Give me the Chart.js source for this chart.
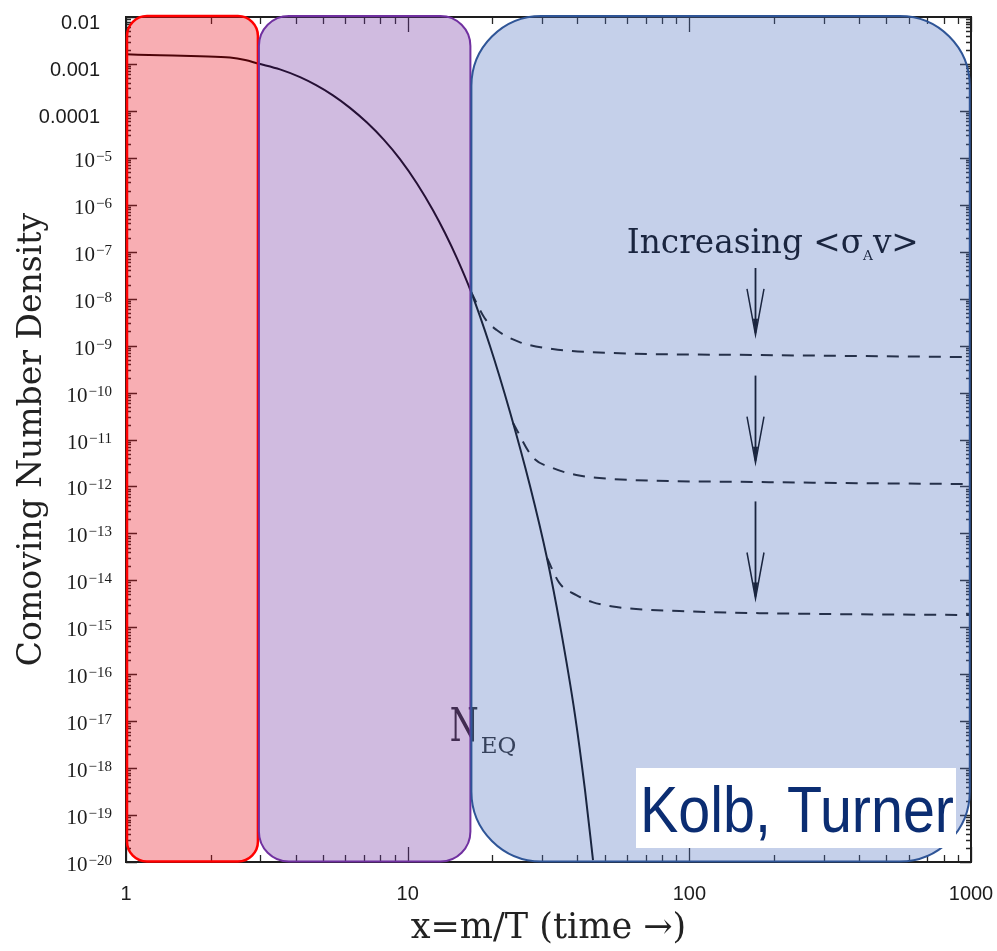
<!DOCTYPE html>
<html>
<head>
<meta charset="utf-8">
<script src="https://cdn.jsdelivr.net/npm/chart.js@4.4.1/dist/chart.umd.min.js"></script>
<style>
  html, body { margin: 0; padding: 0; background: #fff; }
  canvas { display: block; }
</style>
</head>
<body>
<canvas id="chart" width="997" height="951"></canvas>
<script>
// ---- data -------------------------------------------------------------
// equilibrium comoving number density (solid)
const eqX = [1, 1.32, 1.83, 2.34, 2.65, 2.94, 3.52, 4.15, 4.73, 5.43, 6.24, 7.17, 8.24, 9.39, 10.79, 12.30, 13.57, 14.97, 16.78, 19.60, 23.08, 27.19, 31.23, 34.74, 39.27, 42.62, 45.50];
const eqY = [1.60e-3, 1.535e-3, 1.46e-3, 1.37e-3, 1.21e-3, 1.02e-3, 7.65e-4, 5.22e-4, 3.52e-4, 2.14e-4, 1.16e-4, 5.63e-5, 2.41e-5, 9.39e-6, 2.85e-6, 7.66e-7, 2.50e-7, 7.20e-8, 1.41e-8, 9.8e-10, 3.85e-11, 1.02e-12, 2.98e-14, 1.11e-15, 1.35e-17, 3.40e-19, 1.10e-20];

// freeze-out relics for increasing annihilation cross section (dashed)
const relic1X = [16.78, 18.75, 20.7, 24.96, 32.7, 53.3, 177, 990];
const relic1Y = [1.41e-8, 3.87e-9, 2.15e-9, 1.19e-9, 8.45e-10, 6.95e-10, 6.3e-10, 5.7e-10];
const relic2X = [23.66, 27.8, 32.7, 39.7, 53.3, 177, 990];
const relic2Y = [2.26e-11, 4.2e-12, 2.47e-12, 1.75e-12, 1.44e-12, 1.24e-12, 1.12e-12];
const relic3X = [31.23, 34.6, 39.7, 45.3, 55.1, 92.2, 177, 990];
const relic3Y = [2.98e-14, 8.7e-15, 4.85e-15, 3.44e-15, 2.7e-15, 2.22e-15, 2.0e-15, 1.82e-15];

// axis ticks
const xTickValues = [1, 10, 100, 1000];
const yTickExponents = [-2, -3, -4, -5, -6, -7, -8, -9, -10, -11, -12, -13, -14, -15, -16, -17, -18, -19, -20];

// shaded epochs along x
const regionStart = [1, 2.94, 16.7];
const regionEnd = [2.94, 16.7, 990];

// "Increasing <σv>" arrows
const arrowAtX = 171;
const arrowFrom = [4.5e-8, 2.3e-10, 4.8e-13];
const arrowTo = [1.7e-9, 3.2e-12, 4.1e-15];

// ---- helpers ----------------------------------------------------------
const pts = (xs, ys) => xs.map((x, i) => ({ x, y: ys[i] }));
const SERIF = '"DejaVu Serif"';
const TSERIF = '"Liberation Serif"';
const SANS = '"Liberation Sans"';

function roundRectPath(ctx, x, y, w, h, r) {
  ctx.beginPath();
  ctx.moveTo(x + r, y);
  ctx.lineTo(x + w - r, y);
  ctx.arcTo(x + w, y, x + w, y + r, r);
  ctx.lineTo(x + w, y + h - r);
  ctx.arcTo(x + w, y + h, x + w - r, y + h, r);
  ctx.lineTo(x + r, y + h);
  ctx.arcTo(x, y + h, x, y + h - r, r);
  ctx.lineTo(x, y + r);
  ctx.arcTo(x, y, x + r, y, r);
  ctx.closePath();
}

// frame with inward ticks on all four sides, annotations under the shading
const framePlugin = {
  id: 'frame',
  beforeDatasetsDraw(chart) {
    const { ctx, chartArea: a, scales: { x, y } } = chart;
    ctx.save();
    ctx.strokeStyle = '#262626';
    ctx.lineWidth = 1.3;
    ctx.beginPath();
    // x ticks (bottom and top)
    for (let i = 0; i < xTickValues.length; i++) {
      const d = xTickValues[i];
      const px = Math.round(x.getPixelForValue(d)) + 0.5;
      ctx.moveTo(px, a.bottom); ctx.lineTo(px, a.bottom - 15);
      ctx.moveTo(px, a.top); ctx.lineTo(px, a.top + 15);
      if (i < xTickValues.length - 1) {
        for (let k = 2; k <= 9; k++) {
          const mx = Math.round(x.getPixelForValue(k * d)) + 0.5;
          ctx.moveTo(mx, a.bottom); ctx.lineTo(mx, a.bottom - 7);
          ctx.moveTo(mx, a.top); ctx.lineTo(mx, a.top + 7);
        }
      }
    }
    // y ticks (left and right)
    for (let i = 0; i < yTickExponents.length; i++) {
      const d = Math.pow(10, yTickExponents[i]);
      const py = Math.round(y.getPixelForValue(d)) + 0.5;
      ctx.moveTo(a.left, py); ctx.lineTo(a.left + 11, py);
      ctx.moveTo(a.right, py); ctx.lineTo(a.right - 11, py);
      if (i < yTickExponents.length - 1) {
        const lo = Math.pow(10, yTickExponents[i + 1]);
        for (let k = 2; k <= 9; k++) {
          const my = Math.round(y.getPixelForValue(k * lo)) + 0.5;
          ctx.moveTo(a.left, my); ctx.lineTo(a.left + 5, my);
          ctx.moveTo(a.right, my); ctx.lineTo(a.right - 5, my);
        }
      }
    }
    ctx.stroke();
    ctx.lineWidth = 2;
    ctx.strokeStyle = '#1e1e1e';
    ctx.strokeRect(a.left, a.top, a.right - a.left, a.bottom - a.top);

    // arrows
    ctx.strokeStyle = '#000';
    ctx.fillStyle = '#000';
    const ax = Math.round(x.getPixelForValue(arrowAtX)) + 0.5;
    for (let i = 0; i < arrowFrom.length; i++) {
      const y1 = y.getPixelForValue(arrowFrom[i]);
      const y2 = y.getPixelForValue(arrowTo[i]);
      ctx.lineWidth = 1.8;
      ctx.beginPath();
      ctx.moveTo(ax, y1); ctx.lineTo(ax, y2 - 2);
      ctx.stroke();
      ctx.lineWidth = 1.5;
      ctx.beginPath();
      ctx.moveTo(ax - 8.5, y2 - 46);
      ctx.lineTo(ax, y2);
      ctx.lineTo(ax + 8.5, y2 - 46);
      ctx.stroke();
      ctx.beginPath();
      ctx.moveTo(ax, y2);
      ctx.lineTo(ax - 2.5, y2 - 16);
      ctx.lineTo(ax + 2.5, y2 - 16);
      ctx.closePath();
      ctx.fill();
    }

    // "Increasing <σ_A v>"
    const parts = [
      { t: 'Increasing <σ', s: 1, dy: 0 },
      { t: 'A', s: 0.42, dy: 7 },
      { t: 'v>', s: 1, dy: 0 }
    ];
    let w = 0;
    for (const p of parts) { ctx.font = `${100 * p.s}px ${SERIF}`; w += ctx.measureText(p.t).width; }
    const size = 100 * 292 / w;
    let tx = x.getPixelForValue(60);
    const ty = y.getPixelForValue(9.5e-8);
    ctx.textBaseline = 'alphabetic';
    ctx.textAlign = 'left';
    for (const p of parts) {
      ctx.font = `${size * p.s}px ${SERIF}`;
      ctx.fillText(p.t, tx, ty + p.dy);
      tx += ctx.measureText(p.t).width;
    }

    // N_EQ
    const nx = x.getPixelForValue(14.1);
    const ny = y.getPixelForValue(3.7e-18);
    ctx.save();
    ctx.translate(nx, ny);
    ctx.scale(0.72, 1);
    ctx.font = `46px ${SERIF}`;
    ctx.fillStyle = '#2a2a2a';
    ctx.fillText('N', 0, 0);
    ctx.restore();
    ctx.font = `23px ${SERIF}`;
    ctx.fillStyle = '#2a2a2a';
    ctx.fillText('EQ', nx + 31, ny + 12);
    ctx.restore();
  },
  afterDatasetsDraw(chart) {
    const { ctx, chartArea: a, scales: { x, y } } = chart;
    ctx.save();
    // translucent epochs
    const fills = ['rgba(234,10,25,0.33)', 'rgba(112,48,160,0.33)', 'rgba(79,113,191,0.33)'];
    const strokes = ['#ff0000', '#7030a0', '#2f5597'];
    const widths = [2.5, 2, 2];
    const radii = [20, 30, 70];
    for (let i = 0; i < regionStart.length; i++) {
      const x1 = x.getPixelForValue(regionStart[i]);
      const x2 = x.getPixelForValue(regionEnd[i]);
      roundRectPath(ctx, x1 + 1, a.top - 1, x2 - x1 - 1, a.bottom - a.top + 0.5, radii[i]);
      ctx.fillStyle = fills[i];
      ctx.fill();
      ctx.lineWidth = widths[i];
      ctx.strokeStyle = strokes[i];
      ctx.stroke();
    }

    // y tick labels
    ctx.fillStyle = '#1c1c1c';
    ctx.textBaseline = 'alphabetic';
    for (const e of yTickExponents) {
      const py = y.getPixelForValue(Math.pow(10, e));
      if (e >= -4) {
        ctx.font = `20px ${SANS}`;
        ctx.textAlign = 'right';
        ctx.fillText(Math.pow(10, e).toFixed(-e), 100, py + 12);
      } else {
        const exp = '\u2212' + String(-e);
        ctx.textAlign = 'left';
        ctx.font = `15px ${TSERIF}`;
        const we = ctx.measureText(exp).width;
        ctx.font = `21px ${TSERIF}`;
        const wb = ctx.measureText('10').width;
        const right = 112;
        ctx.fillText('10', right - we - wb - 1, py + 9);
        ctx.font = `15px ${TSERIF}`;
        ctx.fillText(exp, right - we, py + 3);
      }
    }

    // credit box
    const bx = a.right - 335, by = a.bottom - 94, bw = 320, bh = 80;
    ctx.fillStyle = '#ffffff';
    ctx.fillRect(bx, by, bw, bh);
    ctx.font = `64px ${SANS}`;
    const kw = ctx.measureText('Kolb, Turner').width;
    ctx.save();
    ctx.translate(bx + 4, by + 64);
    ctx.scale(314 / kw, 1);
    ctx.fillStyle = '#0b2d72';
    ctx.textAlign = 'left';
    ctx.fillText('Kolb, Turner', 0, 0);
    ctx.restore();
    ctx.restore();
  }
};

const lineStyle = {
  borderWidth: 2,
  pointRadius: 0,
  fill: false,
  cubicInterpolationMode: 'monotone'
};

new Chart(document.getElementById('chart'), {
  type: 'line',
  data: {
    datasets: [
      Object.assign({ label: 'N_EQ', data: pts(eqX, eqY), borderColor: '#000' }, lineStyle),
      Object.assign({ label: 'relic 1', data: pts(relic1X, relic1Y), borderColor: '#111', borderDash: [12, 9] }, lineStyle),
      Object.assign({ label: 'relic 2', data: pts(relic2X, relic2Y), borderColor: '#111', borderDash: [12, 9] }, lineStyle),
      Object.assign({ label: 'relic 3', data: pts(relic3X, relic3Y), borderColor: '#111', borderDash: [12, 9] }, lineStyle)
    ]
  },
  options: {
    responsive: false,
    animation: false,
    devicePixelRatio: 1,
    layout: { padding: { top: 17, right: 26, bottom: 0, left: 0 } },
    plugins: { legend: { display: false }, tooltip: { enabled: false } },
    scales: {
      x: {
        type: 'logarithmic',
        min: 1,
        max: 1000,
        grid: { display: false },
        border: { display: false },
        afterBuildTicks: (s) => { s.ticks = xTickValues.map(v => ({ value: v })); },
        afterFit: (s) => { s.height = 89; s.paddingLeft = 0; s.paddingRight = 0; },
        ticks: {
          autoSkip: false,
          maxRotation: 0,
          padding: 12,
          color: '#1c1c1c',
          font: { family: 'Liberation Sans', size: 20 },
          callback: (v) => String(v)
        },
        title: {
          display: true,
          text: 'x=m/T (time \u2192)',
          color: '#222',
          font: { family: 'DejaVu Serif', size: 35 },
          padding: { top: 0, bottom: 1 }
        }
      },
      y: {
        type: 'logarithmic',
        min: 1e-20,
        max: 1e-2,
        grid: { display: false },
        border: { display: false },
        ticks: { display: false },
        afterFit: (s) => { s.width = 126; s.paddingTop = 0; s.paddingBottom = 0; },
        title: {
          display: true,
          text: 'Comoving Number Density',
          color: '#222',
          font: { family: 'DejaVu Serif', size: 33 },
          padding: { top: 13, bottom: 0 }
        }
      }
    }
  },
  plugins: [framePlugin]
});
</script>
</body>
</html>
